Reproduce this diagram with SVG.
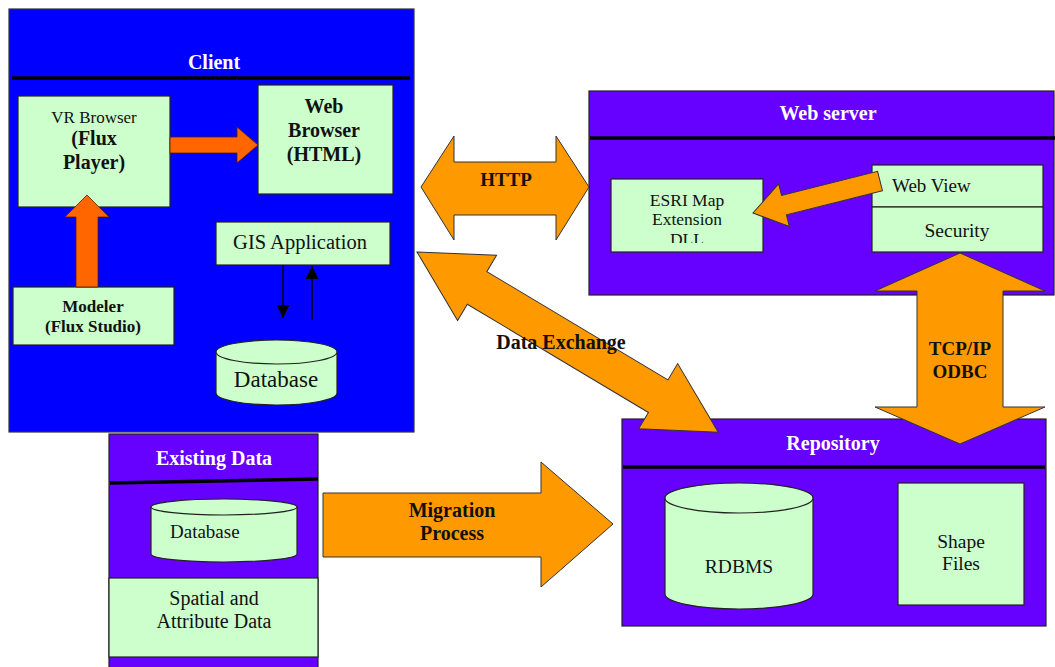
<svg xmlns="http://www.w3.org/2000/svg" width="1055" height="667" viewBox="0 0 1055 667">
<style>
text{font-family:"Liberation Serif",Tinos,"Times New Roman","DejaVu Serif",serif;fill:#111;text-anchor:middle}
.t{font-weight:bold;fill:#fff;font-size:20px}
.b{font-weight:bold}
.lg{fill:#ccffcc;stroke:#222;stroke-width:1.2}
.blue{fill:#0000ff;stroke:#333;stroke-width:1.2}
.pur{fill:#6600ff;stroke:#222;stroke-width:1.2}
.hl{stroke:#000;stroke-width:3.5}
.oa{fill:#ff9900;stroke:#333;stroke-width:1}
.ra{fill:#ff6600;stroke:#552200;stroke-width:0.8}
.ln{stroke:#000;stroke-width:1.5;fill:none}
</style>
<defs>
<marker id="ah" viewBox="0 0 10 10" refX="10" refY="5" markerWidth="13" markerHeight="13" markerUnits="userSpaceOnUse" orient="auto">
<path d="M0,0 L10,5 L0,10 Z" fill="#000"/>
</marker>
<clipPath id="esriClip"><rect x="611" y="179" width="152" height="64"/></clipPath>
</defs>
<rect width="1055" height="667" fill="#fff"/>

<g id="client">
<rect class="blue" x="9" y="9" width="405" height="423"/>
<line class="hl" x1="12" y1="78" x2="410" y2="78"/>
<text class="t" x="214" y="69" font-family="Liberation Serif, serif">Client</text>
</g>

<g id="vr-browser">
<rect class="lg" x="18" y="96" width="152" height="111"/>
<text x="94" y="123" font-size="17">VR Browser</text>
<text class="b" x="94" y="145" font-size="20">(Flux</text>
<text class="b" x="94" y="169" font-size="20">Player)</text>
</g>

<g id="web-browser">
<rect class="lg" x="258" y="85" width="135" height="109"/>
<text class="b" x="324" y="113" font-size="20">Web</text>
<text class="b" x="324" y="137" font-size="20">Browser</text>
<text class="b" x="324" y="161" font-size="20">(HTML)</text>
</g>

<g id="modeler">
<rect class="lg" x="13" y="287" width="161" height="58"/>
<text class="b" x="93" y="312" font-size="17">Modeler</text>
<text class="b" x="93" y="332" font-size="17">(Flux Studio)</text>
</g>

<g id="gis-application">
<rect class="lg" x="216" y="222" width="174" height="43"/>
<text x="300" y="249" font-size="20.5">GIS Application</text>
</g>

<g id="client-database">
<path class="lg" d="M216,352 L216,393 A60.5,12 0 0 0 337,393 L337,352"/>
<ellipse class="lg" cx="276.5" cy="352" rx="60.5" ry="12"/>
<text x="276" y="387" font-size="23">Database</text>
</g>

<g id="web-server">
<rect class="pur" x="589" y="91" width="465" height="204"/>
<line class="hl" x1="590" y1="138" x2="1055" y2="138"/>
<text class="t" x="828" y="120">Web  server</text>
</g>

<g id="esri-map-extension">
<rect class="lg" x="611" y="179" width="152" height="73"/>
<g clip-path="url(#esriClip)">
<text x="687" y="206" font-size="17.5">ESRI Map</text>
<text x="687" y="225" font-size="17.5">Extension</text>
<text x="687" y="245" font-size="17.5">DLL</text>
</g>
</g>

<g id="web-view">
<rect class="lg" x="872" y="165" width="171" height="42"/>
<text x="892" y="192" font-size="19" style="text-anchor:start">Web View</text>
</g>

<g id="security">
<rect class="lg" x="872" y="207" width="171" height="45"/>
<text x="957" y="237" font-size="19.5">Security</text>
</g>

<g id="repository">
<rect class="pur" x="622" y="419" width="424" height="207"/>
<line class="hl" x1="623" y1="467" x2="1045" y2="467"/>
<text class="t" x="833" y="450">Repository</text>
</g>

<g id="rdbms">
<path class="lg" d="M665,498 L665,594 A74,15 0 0 0 813,594 L813,498"/>
<ellipse class="lg" cx="739" cy="498" rx="74" ry="15"/>
<text x="739" y="573" font-size="19.5">RDBMS</text>
</g>

<g id="shape-files">
<rect class="lg" x="898" y="483" width="126" height="122"/>
<text x="961" y="548" font-size="19.5">Shape</text>
<text x="961" y="570" font-size="19.5">Files</text>
</g>

<g id="existing-data">
<rect class="pur" x="109" y="434" width="209" height="240"/>
<line class="hl" x1="110" y1="483" x2="318" y2="479"/>
<text class="t" x="214" y="465">Existing Data</text>
</g>

<g id="existing-database">
<path class="lg" d="M151,507 L151,554 A73,8 0 0 0 297,554 L297,507"/>
<ellipse class="lg" cx="224" cy="507" rx="73" ry="8"/>
<text x="170" y="538" font-size="19" style="text-anchor:start">Database</text>
</g>

<g id="spatial-attribute-data">
<rect class="lg" x="109" y="578" width="209" height="79"/>
<text x="214" y="605" font-size="20">Spatial and</text>
<text x="214" y="628" font-size="20">Attribute Data</text>
</g>

<g id="connectors">
<polygon class="ra" points="170,137 237,137 237,127 258,145 237,163 237,153 170,153"/>
<polygon class="ra" points="76,287 76,217 65,217 87,195 109,217 98,217 98,287"/>
<line class="ln" x1="283" y1="265" x2="283" y2="318" marker-end="url(#ah)"/>
<line class="ln" x1="312" y1="320" x2="312" y2="266" marker-end="url(#ah)"/>
<polygon class="oa" transform="translate(880,181) rotate(165.86)" points="0,-10 99,-10 99,-22 131,0 99,22 99,10 0,10"/>
<polygon class="oa" points="421,187 454,136 454,162 556,162 556,136 589,187 556,240 556,215 454,215 454,240"/>
<text class="b" x="506" y="186" font-size="19">HTTP</text>
<polygon class="oa" transform="translate(417,252) rotate(30.88)" points="0,0 70,-38 70,-19 281,-19 281,-38 351,0 281,38 281,19 70,19 70,38"/>
<text class="b" x="561" y="349" font-size="20">Data Exchange</text>
<polygon class="oa" points="960,253 1045,291 1003,291 1003,407 1045,407 960,444 875,407 917,407 917,291 875,291"/>
<text class="b" x="960" y="355" font-size="19">TCP/IP</text>
<text class="b" x="960" y="378" font-size="19">ODBC</text>
<polygon class="oa" points="323,493 541,493 541,462 613,524 541,587 541,557 323,557"/>
<text class="b" x="452" y="517" font-size="20">Migration</text>
<text class="b" x="452" y="540" font-size="20">Process</text>
</g>
</svg>
